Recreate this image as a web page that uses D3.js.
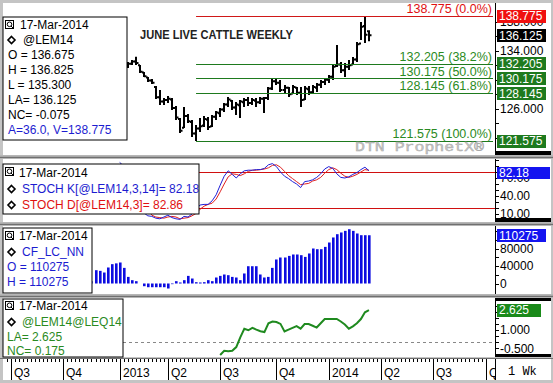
<!DOCTYPE html>
<html>
<head>
<meta charset="utf-8">
<script src="https://cdn.jsdelivr.net/npm/d3@7"></script>
<style>
body { margin: 0; background: #fff; }
svg { display: block; font-family: "Liberation Sans", Arial, sans-serif; }
</style>
</head>
<body>
<div id="chart"></div>
<script>
// ---- data (weekly bars, last bar = 17-Mar-2014) ----
const lastBar = new Date(2014, 2, 17);

// June live cattle, oldest visible bar first
const priceOpen = [131.8,132.2,132.5,132.0,131.0,130.3,129.9,129.0,127.6,127.0,127.2,127.3,126.1,124.6,123.4,125.0,124.2,122.6,123.3,123.7,124.5,123.6,124.9,125.4,125.9,126.6,127.1,126.2,126.5,126.9,127.2,126.8,127.1,126.9,127.4,127.5,128.8,129.8,129.6,128.6,128.9,128.1,128.9,128.2,127.3,128.7,128.3,128.9,129.3,129.7,130.0,130.4,131.9,132.1,131.3,131.8,132.1,132.8,135.0,137.4,136.675];
const priceHigh = [132.45,132.72,133.17,132.03,131.07,130.38,130.11,129.14,128.59,127.49,127.76,127.49,126.39,124.74,126.25,125.29,124.47,123.78,124.74,125.01,124.88,125.15,125.70,126.12,126.80,127.63,127.22,126.94,127.22,127.49,127.63,127.49,127.49,127.63,127.63,129.00,130.11,130.24,129.97,129.28,129.00,129.28,129.00,129.00,129.14,129.14,129.28,129.55,129.97,130.24,130.66,132.03,134.78,132.45,132.31,132.72,133.13,135.20,137.95,138.775,136.825];
const priceLow = [131.62,132.03,132.03,130.93,130.38,129.69,129.42,127.35,126.53,126.53,126.80,125.84,124.47,122.68,123.37,124.05,122.13,121.575,122.82,123.51,123.09,123.51,124.47,124.88,125.56,126.25,125.84,125.15,124.74,126.25,126.39,126.53,126.25,126.67,125.43,127.22,128.59,129.28,128.32,128.18,127.63,128.18,127.90,126.25,127.22,127.90,128.04,128.32,128.87,129.28,129.55,129.97,131.76,130.93,130.38,131.34,132.03,132.45,135.47,135.06,135.300];
const priceClose = [132.2,132.5,132.3,131.1,130.5,129.9,129.6,127.6,127.0,127.2,127.4,126.1,124.8,123.0,125.0,124.3,122.6,123.3,123.6,124.6,123.5,124.9,125.5,125.9,126.6,127.3,126.2,126.6,127.0,127.2,126.8,127.2,126.9,127.4,127.5,128.8,129.8,129.6,128.6,128.9,128.0,129.0,128.2,127.2,128.8,128.3,129.0,129.3,129.7,130.0,130.4,131.8,132.1,131.3,131.8,132.0,132.8,134.9,137.3,136.2,136.125];

// Fibonacci retracement from the swing low to the high
const fibValues = [138.775, 132.205, 130.175, 128.145, 121.575];
const fibLabels = ['0.0%', '38.2%', '50.0%', '61.8%', '100.0%'];
const fibStartWeeksBack = 43;

// stochastics, oldest first
const stochK = [96,90,84,78,72,40,12,7,6,3,2,5,8,4,2,1,6,5,10,18,25,26,26,32,42,58,73,82,76,70,77,82,83,83,84,84,86,92,94,89,80,73,69,64,60,54,64,65,67,71,77,85,89,86,77,71,70,72,76,79,84,88,82.18];
const stochD = [92,92,90,84,78,63,41,20,8,5,4,3,5,6,5,2,3,4,7,11,18,23,26,28,35,47,60,72,77,76,74,77,81,83,83,84,85,87,91,92,88,81,74,69,64,59,60,61,65,67,71,78,84,87,84,78,73,71,73,76,80,84,82.86];

// CF_LC_NN, oldest first
const cotValues = [5300,30400,28900,25100,36600,44200,46000,48000,35700,15100,7600,5300,0,-6200,-8500,-8500,-8500,-8500,-8500,-11400,-1500,5300,2300,7600,17400,11400,3000,2300,3000,7600,5300,13700,17400,20600,19000,15100,13700,7600,22900,39500,39500,39500,20600,13700,15100,35700,54900,59400,59400,63100,66300,66300,64700,60800,68600,80000,78400,78400,83700,93700,105200,112700,116600,120300,124100,120300,114300,110400,110400,110275];

// June/August spread, oldest first
const spreadValues = [-1.05,-0.70,-0.75,-0.70,-0.40,0.40,1.10,0.98,1.18,1.03,0.90,0.83,1.55,1.69,1.65,1.50,0.88,1.03,1.18,1.32,1.11,1.49,1.49,1.35,1.20,1.55,1.90,1.90,1.90,1.90,1.70,1.45,1.11,1.30,1.55,1.90,2.45,2.625];

const xTickLabels = ['Q3', 'Q4', '2013', 'Q2', 'Q3', 'Q4', '2014', 'Q2', 'Q3', 'Q4'];

// ---- helpers ----
function weekDates(arr) {
    const n = arr.length;
    return arr.map((v, i) => d3.timeDay.offset(lastBar, -7 * (n - 1 - i)));
}

const W = 553, H = 383;
const plotL = 3, plotR = 495, edgeR = 551;
const BLUE = '#1c1cd0', RED = '#e01010', GREEN = '#2a8a22', DKGREEN = '#1e7a1e';

const x = d3.scaleTime()
    .domain([new Date(2012, 6, 1), new Date(2014, 9, 1)])
    .range([10.5, 482.7]);

const svg = d3.select('#chart').append('svg')
    .attr('width', W)
    .attr('height', H);

svg.append('rect').attr('width', W).attr('height', H).attr('fill', '#c4c4c4');

const panels = [
    {id: 'price', top: 3, bottom: 155},
    {id: 'stoch', top: 159, bottom: 222},
    {id: 'cot', top: 226, bottom: 294},
    {id: 'spread', top: 298, bottom: 357},
    {id: 'axis', top: 359, bottom: 380}
];

panels.forEach(p => {
    svg.append('rect')
        .attr('x', plotL).attr('y', p.top)
        .attr('width', edgeR - plotL).attr('height', p.bottom - p.top)
        .attr('fill', '#fff');
    svg.append('clipPath').attr('id', 'clip-' + p.id)
        .append('rect')
        .attr('x', plotL).attr('y', p.top)
        .attr('width', plotR - plotL).attr('height', p.bottom - p.top);
    p.g = svg.append('g').attr('clip-path', `url(#clip-${p.id})`);
});
// separators between panels
[157, 224, 296].forEach(y => {
    svg.append('rect').attr('x', 0).attr('y', y - 1.5).attr('width', W).attr('height', 3).attr('fill', '#a8a8a8');
    svg.append('line').attr('x1', 0).attr('x2', W).attr('y1', y + 0.5).attr('y2', y + 0.5)
        .attr('stroke', '#707070').attr('stroke-width', 1);
});
svg.append('line').attr('x1', 0).attr('x2', W).attr('y1', 358.5).attr('y2', 358.5).attr('stroke', '#707070');

const P = {};
panels.forEach(p => P[p.id] = p);

function legendBox(g, x0, y0, w, h) {
    g.append('rect')
        .attr('x', x0 + 0.5).attr('y', y0 + 0.5)
        .attr('width', w).attr('height', h)
        .attr('fill', '#fff').attr('stroke', '#000');
}
function legendIcon(g, x0, y0) {
    g.append('rect').attr('x', x0 + 0.5).attr('y', y0 + 0.5).attr('width', 8).attr('height', 8)
        .attr('fill', '#fff').attr('stroke', '#000');
    g.append('circle').attr('cx', x0 + 4.5).attr('cy', y0 + 4.3).attr('r', 2.3)
        .attr('fill', 'none').attr('stroke', '#000');
    g.append('line').attr('x1', x0 + 6).attr('y1', y0 + 6).attr('x2', x0 + 8).attr('y2', y0 + 8)
        .attr('stroke', '#000');
}
function diamond(g, cx, cy) {
    g.append('path')
        .attr('d', `M${cx},${cy - 3.5}L${cx + 3.5},${cy}L${cx},${cy + 3.5}L${cx - 3.5},${cy}Z`)
        .attr('fill', '#fff').attr('stroke', '#000').attr('stroke-width', 1.6);
}
function legendText(g, x0, y0, str, color) {
    g.append('text').attr('x', x0).attr('y', y0)
        .attr('font-size', 12).attr('fill', color || '#000').text(str);
}

function rightAxis(y, top, bottom, ticks, labels, fmt) {
    const g = svg.append('g');
    g.append('line').attr('x1', plotR + 0.5).attr('x2', plotR + 0.5)
        .attr('y1', top).attr('y2', bottom).attr('stroke', '#000');
    ticks.forEach(t => {
        g.append('line').attr('x1', plotR).attr('x2', plotR + 4)
            .attr('y1', Math.round(y(t)) + 0.5).attr('y2', Math.round(y(t)) + 0.5)
            .attr('stroke', '#000');
    });
    labels.forEach(t => {
        g.append('text').attr('x', 500).attr('y', y(t)).attr('dy', '0.36em')
            .attr('font-size', 12).attr('fill', '#000').text(fmt(t));
    });
    return g;
}
function valueBox(g, yc, w, fill, str) {
    g.append('rect').attr('x', 497).attr('y', Math.round(yc - 6.5))
        .attr('width', w).attr('height', 13).attr('fill', fill);
    g.append('text').attr('x', 499).attr('y', yc).attr('dy', '0.36em')
        .attr('font-size', 12).attr('fill', '#fff').text(str);
}

// ---- price panel ----
const yP = d3.scaleLinear().domain([121.575, 138.775]).range([141, 16]);
const priceDates = weekDates(priceHigh);
const pg = P.price.g;

pg.selectAll('path.bar')
    .data(priceDates)
    .enter().append('path')
    .attr('class', 'bar')
    .attr('d', (d, i) => {
        const cx = Math.round(x(d));
        return `M${cx},${yP(priceHigh[i])}V${yP(priceLow[i])}` +
            `M${cx - 2},${yP(priceOpen[i])}H${cx}` +
            `M${cx},${yP(priceClose[i])}H${cx + 2.5}`;
    })
    .attr('stroke', '#000').attr('stroke-width', 2).attr('fill', 'none');

const fibX0 = x(d3.timeDay.offset(lastBar, -7 * fibStartWeeksBack));
fibValues.forEach((v, i) => {
    const c = i === 0 ? '#d01818' : DKGREEN;
    pg.append('line')
        .attr('x1', fibX0).attr('x2', 493)
        .attr('y1', Math.round(yP(v)) + 0.5).attr('y2', Math.round(yP(v)) + 0.5)
        .attr('stroke', c).attr('stroke-width', 1);
    pg.append('text')
        .attr('x', 492).attr('y', yP(v) - 3)
        .attr('text-anchor', 'end').attr('font-size', 12.5)
        .attr('fill', i === 0 ? RED : GREEN)
        .text(`${v.toFixed(3)} (${fibLabels[i]})`);
});

pg.append('text')
    .attr('x', 140).attr('y', 39)
    .attr('font-size', 12).attr('font-weight', 'bold').attr('fill', '#222')
    .attr('textLength', 153).attr('lengthAdjust', 'spacingAndGlyphs')
    .text('JUNE LIVE CATTLE WEEKLY');

pg.append('text')
    .attr('x', 355).attr('y', 151)
    .attr('font-family', '"Liberation Mono", "Courier New", monospace')
    .attr('font-size', 12.5).attr('fill', '#c8c8c8').attr('stroke', '#a8a8a8').attr('stroke-width', 0.4)
    .attr('textLength', 129).attr('lengthAdjust', 'spacingAndGlyphs')
    .text('DTN ProphetX®');

legendBox(svg, 2.5, 16.5, 124, 123);
legendIcon(svg, 5, 20);
legendText(svg, 20, 29, '17-Mar-2014');
diamond(svg, 11.5, 40);
legendText(svg, 23, 44, '@LEM14');
legendText(svg, 8, 59, 'O = 136.675');
legendText(svg, 8, 74, 'H = 136.825');
legendText(svg, 8, 89, 'L = 135.300');
legendText(svg, 8, 104, 'LA= 136.125');
legendText(svg, 8, 119, 'NC= -0.075');
legendText(svg, 8, 134, 'A=36.0, V=138.775', BLUE);

// labels at 130 and 122 sit fully behind the value boxes, so only the visible ones are drawn
const pAx = rightAxis(yP, 3, 155, d3.range(122, 139, 2), [126, 134, 138], d => d.toFixed(3));
svg.append('rect').attr('x', plotR).attr('y', 151).attr('width', edgeR - plotR).attr('height', 4).attr('fill', '#000');
valueBox(pAx, yP(138.775), 49, '#f01010', '138.775');
valueBox(pAx, yP(136.125), 49, '#000', '136.125');
valueBox(pAx, yP(132.205), 49, DKGREEN, '132.205');
valueBox(pAx, yP(130.175), 49, DKGREEN, '130.175');
valueBox(pAx, yP(128.145), 49, DKGREEN, '128.145');
valueBox(pAx, yP(121.575), 49, DKGREEN, '121.575');

// ---- stochastic panel ----
const yS = d3.scaleLinear().domain([0, 100]).range([220, 160]);
const stochDates = weekDates(stochK);
const sg = P.stoch.g;
[80, 20].forEach(v => {
    sg.append('line').attr('x1', plotL).attr('x2', plotR)
        .attr('y1', Math.round(yS(v)) + 0.5).attr('y2', Math.round(yS(v)) + 0.5)
        .attr('stroke', '#d01010');
});
const sLine = arr => d3.line().x((d, i) => x(stochDates[i])).y(d => yS(d))(arr);
sg.append('path').attr('d', sLine(stochD)).attr('fill', 'none').attr('stroke', '#e02020').attr('stroke-width', 1);
sg.append('path').attr('d', sLine(stochK)).attr('fill', 'none').attr('stroke', '#2020d8').attr('stroke-width', 1);

legendBox(svg, 2.5, 163.5, 196, 50);
legendIcon(svg, 5, 167);
legendText(svg, 19, 177, '17-Mar-2014');
diamond(svg, 11.5, 189);
legendText(svg, 22, 193, 'STOCH K[@LEM14,3,14]= 82.18', BLUE);
diamond(svg, 11.5, 205);
legendText(svg, 22, 209, 'STOCH D[@LEM14,3]= 82.86', RED);

const sAx = rightAxis(yS, 159, 222, d3.range(10, 101, 10), [70, 40, 10], d => d.toFixed(2));
svg.append('rect').attr('x', plotR).attr('y', 218).attr('width', edgeR - plotR).attr('height', 4).attr('fill', '#000');
sAx.append('rect').attr('x', 497).attr('y', 167).attr('width', 53).attr('height', 12).attr('fill', '#1414f0');
sAx.append('text').attr('x', 499).attr('y', 173).attr('dy', '0.36em').attr('font-size', 12).attr('fill', '#fff').text('82.18');

// ---- CF_LC_NN panel ----
const yC = d3.scaleLinear().domain([0, 40000]).range([283.5, 266]);
const cotDates = weekDates(cotValues);
const cg = P.cot.g;
cg.selectAll('rect.cot')
    .data(cotValues)
    .enter().append('rect')
    .attr('class', 'cot')
    .attr('x', (d, i) => Math.round(x(cotDates[i])) - 1)
    .attr('width', 2.6)
    .attr('y', d => Math.min(yC(d), yC(0)))
    .attr('height', d => Math.abs(yC(d) - yC(0)))
    .attr('fill', '#0c0ce0');

legendBox(svg, 2.5, 227.5, 89, 65);
legendIcon(svg, 5, 231);
legendText(svg, 19, 240, '17-Mar-2014');
diamond(svg, 11.5, 252);
legendText(svg, 22, 256, 'CF_LC_NN', BLUE);
legendText(svg, 7, 271, 'O = 110275', BLUE);
legendText(svg, 7, 286, 'H = 110275', BLUE);

const cAx = rightAxis(yC, 226, 294, d3.range(0, 120001, 20000), [0, 40000, 80000], d => d3.format('d')(d));
valueBox(cAx, yC(110275), 49, '#1414f0', '110275');

// ---- spread panel ----
const ySp = d3.scaleLinear().domain([-0.5, 1.0]).range([348.3, 330]);
const spreadDates = weekDates(spreadValues);
const spg = P.spread.g;
spg.append('line').attr('x1', plotL).attr('x2', plotR)
    .attr('y1', Math.round(ySp(0)) + 0.5).attr('y2', Math.round(ySp(0)) + 0.5)
    .attr('stroke', '#888').attr('stroke-dasharray', '3,3');
spg.append('path')
    .attr('d', d3.line().x((d, i) => x(spreadDates[i])).y(d => ySp(d))(spreadValues))
    .attr('fill', 'none').attr('stroke', '#1f8a1f').attr('stroke-width', 2);

legendBox(svg, 2.5, 298.5, 120, 58);
legendIcon(svg, 5, 301);
legendText(svg, 19, 310, '17-Mar-2014');
diamond(svg, 11.5, 322);
legendText(svg, 22, 326, '@LEM14@LEQ14', GREEN);
legendText(svg, 7, 341, 'LA= 2.625', GREEN);
legendText(svg, 7, 355, 'NC= 0.175', GREEN);

const spAx = rightAxis(ySp, 298, 357, d3.range(-0.5, 3.01, 0.5), [-0.5, 1.0], d => d.toFixed(3));
svg.append('rect').attr('x', plotR).attr('y', 298).attr('width', edgeR - plotR).attr('height', 3).attr('fill', '#000');
svg.append('rect').attr('x', plotR).attr('y', 354).attr('width', edgeR - plotR).attr('height', 3).attr('fill', '#000');
valueBox(spAx, ySp(2.625), 44, '#1a8a1a', '2.625');

// ---- time axis ----
const ag = P.axis.g;
const weeks = d3.timeMonday.range(new Date(2012, 5, 25), new Date(2014, 9, 10));
ag.selectAll('line.minor')
    .data(weeks)
    .enter().append('line')
    .attr('x1', d => Math.round(x(d)) + 0.5).attr('x2', d => Math.round(x(d)) + 0.5)
    .attr('y1', 359).attr('y2', 362)
    .attr('stroke', '#000');
const quarters = d3.timeMonth.every(3).range(new Date(2012, 6, 1), new Date(2014, 9, 2))
    .map(d => d3.timeMonday.ceil(d));
quarters.forEach((d, i) => {
    const qx = Math.round(x(d)) + 0.5;
    ag.append('line').attr('x1', qx).attr('x2', qx).attr('y1', 359).attr('y2', 380).attr('stroke', '#000');
    ag.append('text').attr('x', qx + 2.5).attr('y', 377)
        .attr('font-size', 12).attr('fill', '#000').text(xTickLabels[i]);
});
svg.append('line').attr('x1', plotR + 0.5).attr('x2', plotR + 0.5).attr('y1', 359).attr('y2', 380).attr('stroke', '#000');
svg.append('text').attr('x', 508).attr('y', 375)
    .attr('font-family', '"Liberation Mono", "Courier New", monospace')
    .attr('font-size', 12).attr('fill', '#000').text('1 Wk');
</script>
</body>
</html>
